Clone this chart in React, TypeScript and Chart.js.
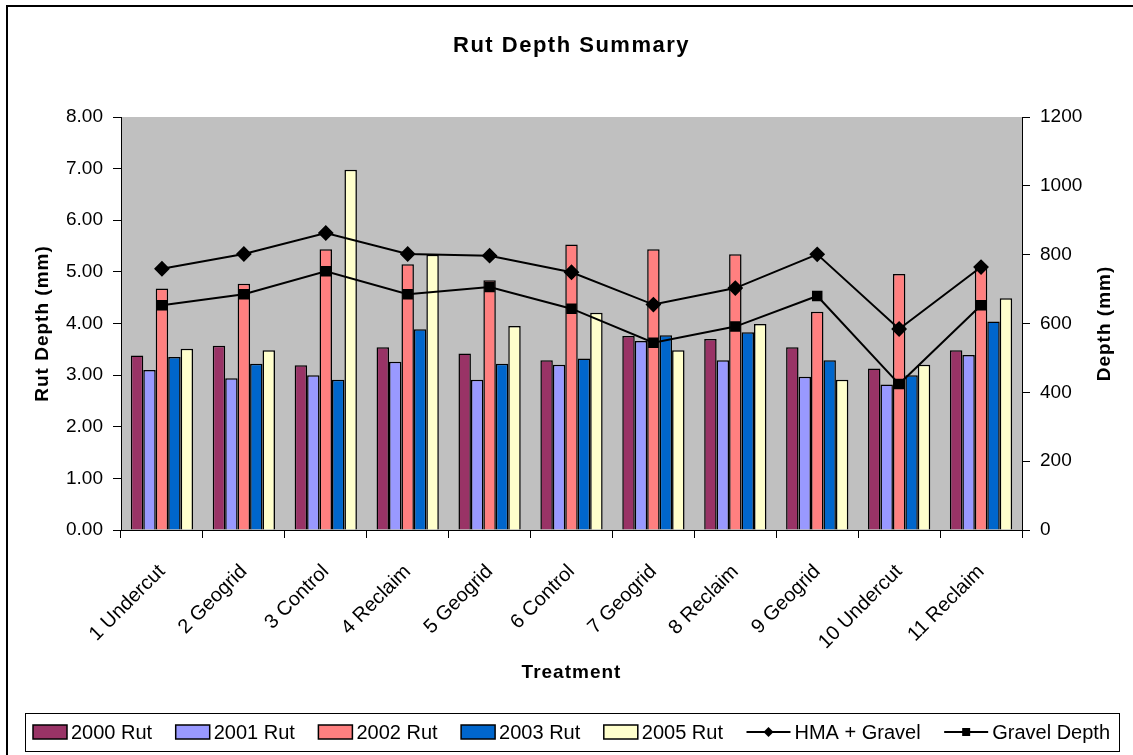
import React, { useEffect, useRef } from "react";
import { Chart, registerables } from "chart.js";

Chart.register(...registerables);

const categories = ["1 Undercut", "2 Geogrid", "3 Control", "4 Reclaim", "5 Geogrid", "6 Control", "7 Geogrid", "8 Reclaim", "9 Geogrid", "10 Undercut", "11 Reclaim"];
const rut2000 = [3.38, 3.57, 3.19, 3.54, 3.42, 3.29, 3.76, 3.70, 3.54, 3.13, 3.48];
const rut2001 = [3.10, 2.94, 3.00, 3.26, 2.91, 3.20, 3.66, 3.29, 2.97, 2.82, 3.39];
const rut2002 = [4.68, 4.77, 5.44, 5.15, 4.84, 5.53, 5.44, 5.34, 4.23, 4.96, 5.09];
const rut2003 = [3.35, 3.22, 2.91, 3.89, 3.22, 3.32, 3.77, 3.83, 3.29, 3.00, 4.04];
const rut2005 = [3.51, 3.48, 6.98, 5.33, 3.95, 4.21, 3.48, 3.99, 2.91, 3.20, 4.49];
const hmaGravel = [759, 802, 863, 802, 797, 749, 655, 703, 801, 584, 764];
const gravelDepth = [653, 685, 752, 685, 706, 643, 544, 591, 680, 424, 653];

const leftTicks = { min: 0, max: 8, step: 1 };
const rightTicks = { min: 0, max: 1200, step: 200 };

const FONT = "'Liberation Sans', Arial, sans-serif";

const barSeries = [
  { label: "2000 Rut", data: rut2000, color: "#993366" },
  { label: "2001 Rut", data: rut2001, color: "#9999FF" },
  { label: "2002 Rut", data: rut2002, color: "#FF8080" },
  { label: "2003 Rut", data: rut2003, color: "#0066CC" },
  { label: "2005 Rut", data: rut2005, color: "#FFFFCC" },
];
const lineSeries = [
  { label: "HMA + Gravel", data: hmaGravel, marker: "rectRot" },
  { label: "Gravel Depth", data: gravelDepth, marker: "rect" },
];

function drawMarker(ctx: CanvasRenderingContext2D, kind: string, x: number, y: number, r: number) {
  ctx.beginPath();
  if (kind === "rectRot") {
    ctx.moveTo(x, y - r);
    ctx.lineTo(x + r, y);
    ctx.lineTo(x, y + r);
    ctx.lineTo(x - r, y);
    ctx.closePath();
  } else {
    ctx.rect(x - r * 0.8, y - r * 0.8, r * 1.6, r * 1.6);
  }
  ctx.fillStyle = "#000";
  ctx.fill();
}

const decorations = {
  id: "decorations",
  beforeDraw(chart: any) {
    const { ctx, chartArea } = chart;
    ctx.save();
    ctx.fillStyle = "#fff";
    ctx.fillRect(0, 0, chart.width, chart.height);
    ctx.fillStyle = "#C0C0C0";
    ctx.fillRect(chartArea.left, chartArea.top, chartArea.right - chartArea.left, chartArea.bottom - chartArea.top);
    ctx.restore();
  },
  afterDraw(chart: any) {
    const { ctx, chartArea } = chart;
    ctx.save();
    // outer frame
    ctx.strokeStyle = "#000";
    ctx.lineWidth = 2;
    ctx.strokeRect(7, 6, chart.width + 10, chart.height + 10);

    ctx.fillStyle = "#000";
    ctx.textAlign = "center";
    ctx.textBaseline = "middle";
    const cx = (chartArea.left + chartArea.right) / 2;
    // title
    ctx.font = `bold 22px ${FONT}`;
    (ctx as any).letterSpacing = "1.5px";
    ctx.fillText("Rut Depth Summary", cx, 46);
    // x title
    ctx.font = `bold 19px ${FONT}`;
    (ctx as any).letterSpacing = "1px";
    ctx.fillText("Treatment", cx, 673);
    // y titles
    const cy = (chartArea.top + chartArea.bottom) / 2;
    ctx.save();
    ctx.translate(43, cy);
    ctx.rotate(-Math.PI / 2);
    ctx.fillText("Rut Depth (mm)", 0, 0);
    ctx.restore();
    ctx.save();
    ctx.translate(1105, cy);
    ctx.rotate(-Math.PI / 2);
    ctx.fillText("Depth (mm)", 0, 0);
    ctx.restore();
    (ctx as any).letterSpacing = "0px";

    // legend
    const boxL = 25, boxR = 1119, boxT = 713, boxB = 751;
    ctx.lineWidth = 1;
    ctx.strokeStyle = "#000";
    ctx.strokeRect(boxL + 0.5, boxT + 0.5, boxR - boxL, boxB - boxT);
    ctx.font = `20px ${FONT}`;
    ctx.textAlign = "left";
    const items: any[] = [
      ...barSeries.map((s) => ({ type: "bar", label: s.label, color: s.color })),
      ...lineSeries.map((s) => ({ type: "line", label: s.label, marker: s.marker })),
    ];
    const swW = 34, lnW = 44, gapT = 4;
    let natural = 0;
    items.forEach((it) => {
      it.tw = ctx.measureText(it.label).width;
      natural += (it.type === "bar" ? swW : lnW) + gapT + it.tw;
    });
    const startX = 33, endX = 1110;
    const gap = (endX - startX - natural) / (items.length - 1);
    let x = startX;
    const my = (boxT + boxB) / 2;
    items.forEach((it) => {
      if (it.type === "bar") {
        ctx.fillStyle = it.color;
        ctx.fillRect(x, my - 7, swW, 14);
        ctx.strokeStyle = "#000";
        ctx.lineWidth = 1.5;
        ctx.strokeRect(x, my - 7, swW, 14);
        x += swW + gapT;
      } else {
        ctx.strokeStyle = "#000";
        ctx.lineWidth = 2;
        ctx.beginPath();
        ctx.moveTo(x, my);
        ctx.lineTo(x + lnW, my);
        ctx.stroke();
        drawMarker(ctx, it.marker, x + lnW / 2, my, 5);
        x += lnW + gapT;
      }
      ctx.fillStyle = "#000";
      ctx.fillText(it.label, x, my + 1);
      x += it.tw + gap;
    });
    ctx.restore();
  },
};

export default function App() {
  const ref = useRef<HTMLCanvasElement>(null);
  useEffect(() => {
    if (!ref.current) return;
    const datasets: any[] = [
      ...lineSeries.map((s) => ({
        type: "line",
        label: s.label,
        data: s.data,
        yAxisID: "y1",
        borderColor: "#000",
        backgroundColor: "#000",
        borderWidth: 2,
        pointStyle: s.marker,
        pointRadius: s.marker === "rect" ? 6 : 6.5,
        pointBackgroundColor: "#000",
        pointBorderColor: "#000",
        tension: 0,
        order: 0,
      })),
      ...barSeries.map((s) => ({
        type: "bar",
        label: s.label,
        data: s.data,
        yAxisID: "y",
        backgroundColor: s.color,
        borderColor: "#000",
        borderWidth: 1.5,
        categoryPercentage: 0.76,
        barPercentage: 1,
        order: 1,
      })),
    ];
    const tickFont = { family: FONT, size: 19 };
    const chart = new Chart(ref.current, {
      type: "bar",
      data: { labels: categories, datasets },
      plugins: [decorations],
      options: {
        animation: false,
        responsive: false,
        devicePixelRatio: 1,
        layout: { padding: { left: 0, right: 0, top: 117, bottom: 0 } },
        plugins: { legend: { display: false }, title: { display: false }, tooltip: { enabled: false } },
        scales: {
          x: {
            grid: { drawOnChartArea: false, tickLength: 8, color: "#000", offset: true },
            border: { color: "#000", width: 1 },
            ticks: { font: { family: FONT, size: 20 }, color: "#000", minRotation: 45, maxRotation: 45, autoSkip: false, padding: 22 },
            afterFit: (s: any) => { s.height = 225; },
          },
          y: {
            position: "left",
            min: leftTicks.min,
            max: leftTicks.max,
            grid: { drawOnChartArea: false, tickLength: 8, color: "#000" },
            border: { color: "#000", width: 1 },
            ticks: { stepSize: leftTicks.step, font: tickFont, color: "#000", padding: 10, callback: (v: any) => Number(v).toFixed(2) },
            afterFit: (s: any) => { s.width = 121; },
          },
          y1: {
            position: "right",
            min: rightTicks.min,
            max: rightTicks.max,
            grid: { drawOnChartArea: false, tickLength: 8, color: "#000" },
            border: { color: "#000", width: 1 },
            ticks: { stepSize: rightTicks.step, font: tickFont, color: "#000", padding: 10, callback: (v: any) => String(v) },
            afterFit: (s: any) => { s.width = 111; },
          },
        },
      } as any,
    });
    return () => chart.destroy();
  }, []);
  return (
    <div style={{ position: "fixed", left: 0, top: 0, width: 1133, height: 755, background: "#fff" }}>
      <canvas ref={ref} width={1133} height={755} style={{ display: "block", width: 1133, height: 755 }} />
    </div>
  );
}
